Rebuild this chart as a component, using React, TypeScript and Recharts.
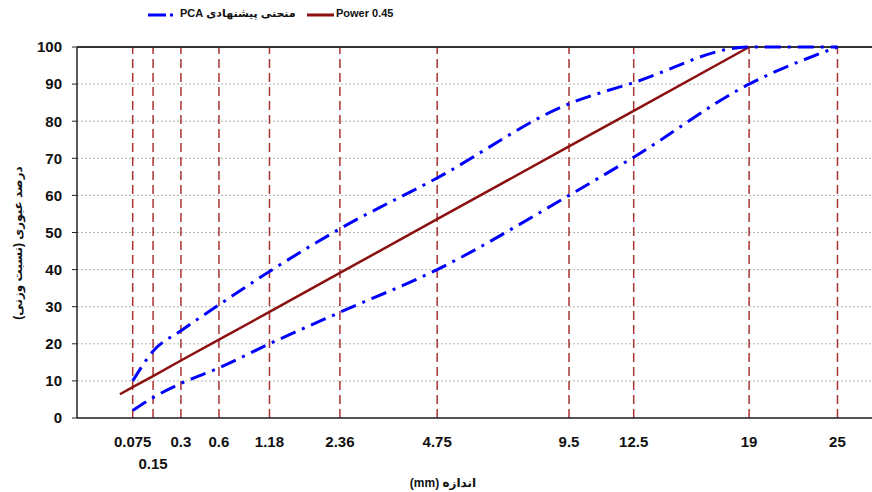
import React from 'react';
import { LineChart, Line, XAxis, YAxis, CartesianGrid, ReferenceLine } from 'recharts';

// sieve sizes (mm) and PCA band limits (% passing)
const sieveSizes = [0.075, 0.15, 0.3, 0.6, 1.18, 2.36, 4.75, 9.5, 12.5, 19, 25];
const sieveLabels = ['0.075', '0.15', '0.3', '0.6', '1.18', '2.36', '4.75', '9.5', '12.5', '19', '25'];
const pcaUpper = [10, 18, 23.5, 30.5, 39.5, 51, 64.7, 84.7, 90.4, 100, 100];
const pcaLower = [2, 5.5, 9.3, 13.5, 20, 28.5, 40, 60, 70.3, 90, 100];

// 0.45 power curve
const powerSizes = [0.042, 0.075, 0.15, 0.3, 0.6, 1.18, 2.36, 4.75, 9.5, 12.5, 19];
const powerValues = [6.4, 8.3, 11.3, 15.5, 21.1, 28.6, 39.1, 53.6, 73.2, 82.8, 100];

const yTicks = [0, 10, 20, 30, 40, 50, 60, 70, 80, 90, 100];

const EXP = 0.45;
const toX = (size: number) => Math.pow(size, EXP);

const upperData = sieveSizes.map((size, i) => ({ size, v: pcaUpper[i] }));
const lowerData = sieveSizes.map((size, i) => ({ size, v: pcaLower[i] }));
const powerData = powerSizes.map((size, i) => ({ size, v: powerValues[i] }));
const xTicks = sieveSizes.map(toX);

const FONT = '"Liberation Sans", Arial, "DejaVu Sans", sans-serif';
const BLUE = '#0000ff';
const RED = '#8b1010';
const GRID_RED = '#a83434';

const XTick = (props: any) => {
  const { x, y, index } = props;
  const low = sieveLabels[index] === '0.15';
  return (
    <text x={x} y={y} dy={low ? 49 : 27} textAnchor="middle" fontSize={15} fontWeight="bold" fill="#111" fontFamily={FONT}>
      {sieveLabels[index]}
    </text>
  );
};

export default function App() {
  return (
    <div style={{ position: 'absolute', left: 0, top: 0, width: 872, height: 492, background: '#fff', fontFamily: FONT }}>
      {/* legend */}
      <svg width={872} height={30} style={{ position: 'absolute', left: 0, top: 0 }}>
        <line x1={148} y1={15} x2={175} y2={15} stroke={BLUE} strokeWidth={3} strokeDasharray="18 4 3 20" />
        <line x1={307} y1={15} x2={334} y2={15} stroke={RED} strokeWidth={3} />
      </svg>
      <div dir="rtl" style={{ position: 'absolute', left: 180, top: 7, fontSize: 11, fontWeight: 'bold', color: '#111', whiteSpace: 'nowrap' }}>
        منحنی پیشنهادی PCA
      </div>
      <div style={{ position: 'absolute', left: 336, top: 7, fontSize: 11, fontWeight: 'bold', color: '#111', whiteSpace: 'nowrap' }}>
        Power 0.45
      </div>

      <LineChart width={872} height={492} margin={{ top: 47, right: 0, bottom: 44, left: 17 }}>
        <CartesianGrid vertical={false} stroke="#b5b5b5" strokeDasharray="2 2" />
        <XAxis
          type="number"
          dataKey={(p: any) => toX(p.size)}
          domain={[0, 4.45]}
          ticks={xTicks}
          allowDataOverflow
          interval={0}
          tick={<XTick />}
          tickLine={false}
          tickSize={0}
          axisLine={{ stroke: '#222', strokeWidth: 1.5 }}
        />
        <YAxis
          type="number"
          domain={[0, 100]}
          ticks={yTicks}
          width={60}
          tickSize={5}
          tickMargin={10}
          tick={{ fontSize: 15, fontWeight: 'bold', fill: '#111', fontFamily: FONT }}
          tickLine={{ stroke: '#222' }}
          axisLine={{ stroke: '#222', strokeWidth: 1.5 }}
        />
        {xTicks.map((t, i) => (
          <ReferenceLine key={i} x={t} stroke={GRID_RED} strokeWidth={1.5} strokeDasharray="9 5" />
        ))}
        <ReferenceLine y={100} stroke="#333" strokeWidth={2} />
        <Line data={powerData} dataKey="v" type="linear" stroke={RED} strokeWidth={2.5} dot={false} isAnimationActive={false} />
        <Line data={upperData} dataKey="v" type="monotone" stroke={BLUE} strokeWidth={3} strokeDasharray="16 7 3 7" dot={false} isAnimationActive={false} />
        <Line data={lowerData} dataKey="v" type="monotone" stroke={BLUE} strokeWidth={3} strokeDasharray="16 7 3 7" dot={false} isAnimationActive={false} />
      </LineChart>

      {/* axis titles */}
      <div
        dir="rtl"
        style={{ position: 'absolute', left: 18, top: 243, transform: 'translate(-50%, -50%) rotate(-90deg)', fontSize: 12, fontWeight: 'bold', color: '#111', whiteSpace: 'nowrap' }}
      >
        درصد عبوری (نسبت وزنی)
      </div>
      <div
        dir="rtl"
        style={{ position: 'absolute', left: 443, top: 483, transform: 'translate(-50%, -50%)', fontSize: 12, fontWeight: 'bold', color: '#111', whiteSpace: 'nowrap' }}
      >
        اندازه (mm)
      </div>
    </div>
  );
}
